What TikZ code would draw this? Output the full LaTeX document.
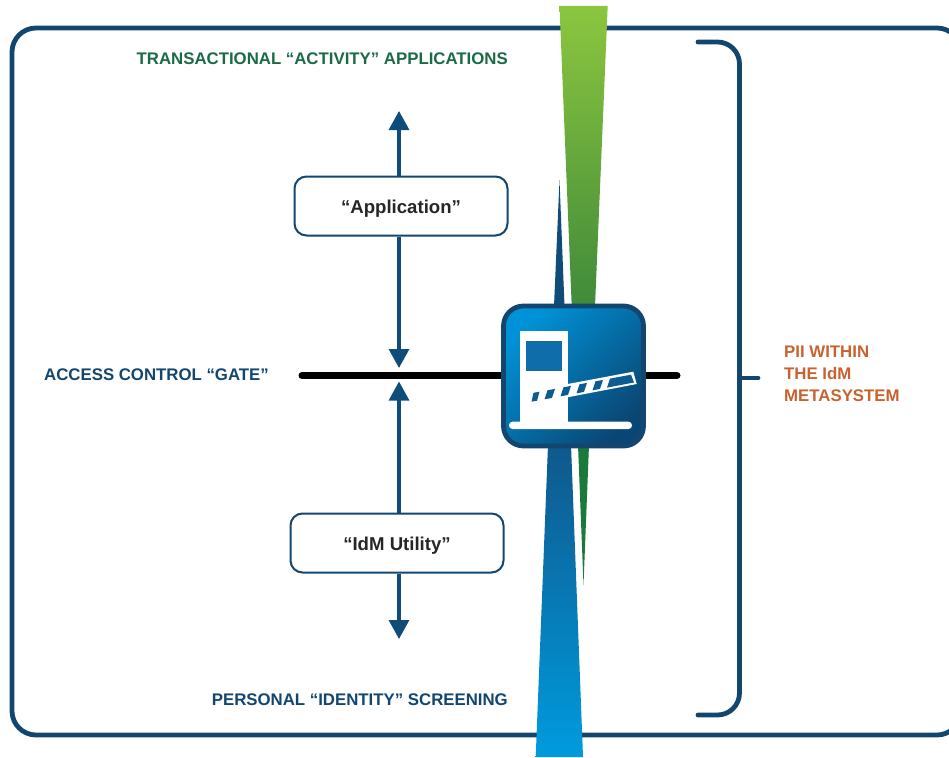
\documentclass[tikz,border=0pt]{standalone}
\usepackage{fontspec}
\setmainfont{Liberation Sans}
\usetikzlibrary{arrows.meta}
\definecolor{navy}{HTML}{12466F}
\definecolor{arrowblue}{HTML}{0F4C7A}
\definecolor{forest}{HTML}{1A6B45}
\definecolor{rust}{HTML}{C8622E}
\definecolor{leaflight}{HTML}{8CC63F}
\definecolor{leafdark}{HTML}{408A3A}
\definecolor{seadark}{HTML}{0F588C}
\definecolor{sealight}{HTML}{009BDE}
\definecolor{spikegreen}{HTML}{1A7A3C}
\definecolor{gatelight}{HTML}{0092D6}
\definecolor{gatedark}{HTML}{0A4673}
\definecolor{glass}{HTML}{0F6EAA}
\definecolor{stripe}{HTML}{0C5C92}
\tikzset{
  lbl/.style={font=\bfseries\fontsize{16.8}{19}\selectfont, inner sep=0pt},
  boxnode/.style={draw=navy, line width=2pt, rounded corners=12pt, fill=white, minimum width=213pt, minimum height=59pt, text height=14pt, text depth=0pt, font=\bfseries\fontsize{18.6}{20}\selectfont, text=black!85},
  flow/.style={draw=arrowblue, line width=3.2pt, -{Triangle[width=20pt,length=19pt]}},
  frameline/.style={draw=navy, line width=4.8pt, line cap=round}
}
\begin{document}
\begin{tikzpicture}[x=1pt,y=-1pt]
\useasboundingbox (0,0) rectangle (949,757);
\draw[frameline, rounded corners=24pt] (12,28) rectangle (961,735);
\coordinate (brtop) at (698,42);
\coordinate (brbot) at (698,715);
\coordinate (brmid) at (739.5,378);
\coordinate (brtick) at (758,378);
\draw[frameline, rounded corners=22pt] (brtop) -- (739.5,42) -- (739.5,715) -- (brbot);
\draw[frameline] (brmid) -- (brtick);
\shade[top color=leaflight, bottom color=leafdark] (559.5,6) -- (607.7,6) -- (595,306) -- (571.7,306) -- cycle;
\fill[arrowblue] (559.5,180) -- (564.5,306) -- (554,306) -- cycle;
\shade[top color=seadark, bottom color=sealight] (548,445) -- (571,445) -- (583,757) -- (535.7,757) -- cycle;
\fill[spikegreen] (578,445) -- (589,445) -- (583.5,585) -- cycle;
\coordinate (barl) at (302,375.5);
\coordinate (barr) at (677,375.5);
\draw[line width=7pt, line cap=round, black] (barl) -- (barr);
\node[lbl, text=forest, anchor=east] (topl) at (508,59) {TRANSACTIONAL “ACTIVITY” APPLICATIONS};
\node[lbl, text=navy, anchor=west] (gatel) at (44,375) {ACCESS CONTROL “GATE”};
\node[lbl, text=navy, anchor=east] (botl) at (508,700) {PERSONAL “IDENTITY” SCREENING};
\node[lbl, text=rust, anchor=north west, align=left] (piil) at (784,346) {PII WITHIN\\[3pt]THE IdM\\[3pt]METASYSTEM};
\node[boxnode] (app) at (401,206) {“Application”};
\node[boxnode] (idm) at (397,543) {“IdM Utility”};
\coordinate (apptip) at (399,111);
\coordinate (appgate) at (399,368);
\coordinate (idmgate) at (399,381.5);
\coordinate (idmtip) at (399,639);
\draw[flow] (app.north -| apptip) -- (apptip);
\draw[flow] (app.south -| appgate) -- (appgate);
\draw[flow] (idm.north -| idmgate) -- (idmgate);
\draw[flow] (idm.south -| idmtip) -- (idmtip);
\node[draw=navy, line width=4.8pt, rounded corners=20pt, minimum width=140pt, minimum height=140pt, top color=gatelight, bottom color=gatedark, shading angle=45] (gate) at (573.5,376) {};
\fill[white] (520,331) rectangle (568,424);
\fill[glass] (525.7,341) rectangle (562,370.7);
\fill[white, rounded corners=3.5pt] (509,421.7) rectangle (632,429);
\fill[white] (526.7,391.7) -- (633.3,371.7) -- (636.7,384) -- (531,404.3) -- cycle;
\fill[stripe] (531.5,401.7) -- (537,400.7) -- (539.5,391.7) -- (533.5,392.8) -- cycle;
\fill[stripe] (607,387.6) -- (634,382.5) -- (631,374.7) -- (610,378.6) -- cycle;
\foreach \xpos in {0,16,32,48}
  \fill[stripe] (544.5+\xpos,399.3-\xpos*0.187) -- (552+\xpos,397.9-\xpos*0.187) -- (555+\xpos,388.9-\xpos*0.187) -- (547.5+\xpos,390.3-\xpos*0.187) -- cycle;
\end{tikzpicture}
\end{document}
